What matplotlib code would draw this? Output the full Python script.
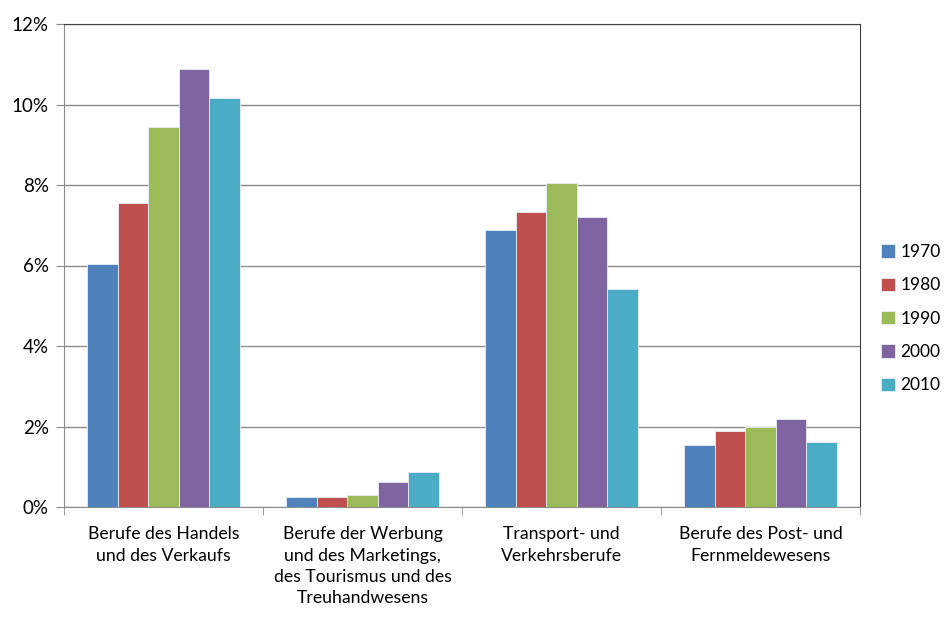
import numpy as np
import matplotlib.pyplot as plt
from matplotlib.ticker import FuncFormatter

plt.rcParams['font.family'] = ['Lato', 'DejaVu Sans']

# Daten
categories = ['Berufe des Handels\nund des Verkaufs',
              'Berufe der Werbung\nund des Marketings,\ndes Tourismus und des\nTreuhandwesens',
              'Transport- und\nVerkehrsberufe',
              'Berufe des Post- und\nFernmeldewesens']
years = ['1970', '1980', '1990', '2000', '2010']
v1970 = [6.04, 0.25, 6.88, 1.54]
v1980 = [7.55, 0.24, 7.33, 1.90]
v1990 = [9.44, 0.31, 8.05, 1.98]
v2000 = [10.88, 0.61, 7.20, 2.19]
v2010 = [10.16, 0.88, 5.42, 1.62]
series = [v1970, v1980, v1990, v2000, v2010]
colors = ['#4F81BD', '#C0504D', '#9BBB59', '#8064A2', '#4BACC6']

fig = plt.figure(figsize=(9.44, 6.17), dpi=100)
ax = fig.add_axes([64 / 944, 1 - 507 / 617, 796 / 944, 483 / 617])

x = np.arange(len(categories))
w = 0.153
for i, (vals, c, yr) in enumerate(zip(series, colors, years)):
    ax.bar(x + (i - 2) * w, vals, width=w, color=c, edgecolor='#e8eef5',
           linewidth=0.6, label=yr, zorder=3)

ax.set_xlim(-0.5, len(categories) - 0.5)
ax.set_ylim(0, 12)
ax.set_yticks(np.arange(0, 13, 2))
ax.yaxis.set_major_formatter(FuncFormatter(lambda v, p: f'{int(v)}%'))
ax.grid(axis='y', color='#8c8c8c', linewidth=1, zorder=0)

# Kategorien-Beschriftung und Trennstriche
ax.set_xticks(x)
ax.set_xticklabels(categories, fontsize=12.7, linespacing=1.4)
ax.tick_params(axis='x', length=0, pad=14)
ax.set_xticks(np.arange(-0.5, len(categories), 1), minor=True)
ax.tick_params(axis='x', which='minor', length=6, color='#8c8c8c')
ax.tick_params(axis='y', labelsize=13.5, length=6, color='#8c8c8c', pad=5)

for s in ['left', 'bottom']:
    ax.spines[s].set_color('#8c8c8c')
for s in ['top', 'right']:
    ax.spines[s].set_color('#404040')

ax.legend(loc='center left', bbox_to_anchor=(1.026, 0.39), borderaxespad=0,
          borderpad=0, frameon=False, fontsize=12.5, handlelength=0.8,
          handleheight=0.8, labelspacing=1.0, handletextpad=0.35)

plt.savefig('out.png', dpi=100)
